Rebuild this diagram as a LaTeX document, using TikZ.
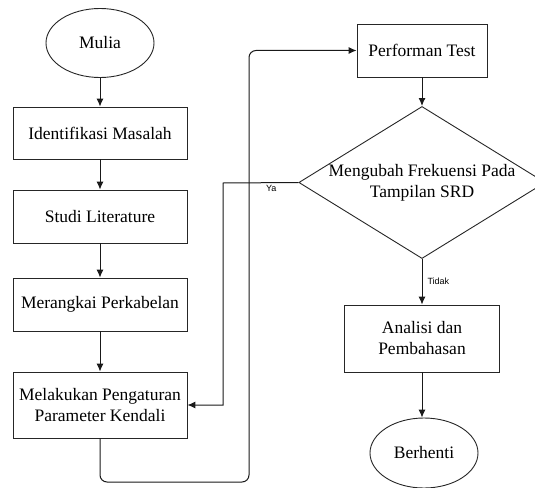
\documentclass[tikz,border=0pt]{standalone}
\usepackage{fontspec}
\setmainfont{Liberation Serif}
\newfontfamily\lblfont{Liberation Sans}
\usetikzlibrary{shapes.geometric,arrows.meta}

\tikzset{
 proses/.style={draw=black!85, line width=0.9pt, rectangle, align=center,
   font=\fontsize{17.5}{21}\selectfont},
 terminal/.style={draw=black!85, line width=0.9pt, ellipse, inner sep=0pt,
   minimum width=108pt, minimum height=69pt, font=\fontsize{17.5}{21}\selectfont},
 keputusan/.style={draw=black!85, line width=0.9pt, diamond, inner sep=0pt,
   shape aspect=1.62, minimum width=244pt, minimum height=151pt, align=center,
   font=\fontsize{17.5}{21}\selectfont},
 alur/.style={draw=black!90, line width=1pt, -{Latex[length=8pt,width=7pt]}},
 ket/.style={font=\lblfont\fontsize{9}{10}\selectfont, inner sep=2pt}
}

\begin{document}
\begin{tikzpicture}[x=1pt,y=-1pt]
\clip (0,0) rectangle (535,487);

\def\lx {100} \def\rx {422}
\def\bw {174}

% kolom kiri
\node[terminal] (mulia) at (\lx,43) {Mulia};
\node[proses, minimum width=\bw pt, minimum height=52pt] (ident) at (\lx,133) {Identifikasi Masalah};
\node[proses, minimum width=\bw pt, minimum height=53pt] (studi) at (\lx,216.5) {Studi Literature};
\node[proses, minimum width=\bw pt, minimum height=53pt] (rangkai) at (\lx,304.5) {Merangkai Perkabelan};
\node[proses, minimum width=\bw pt, minimum height=66pt] (atur) at (\lx,405) {Melakukan Pengaturan\\Parameter Kendali};

% kolom kanan
\node[proses, minimum width=130pt, minimum height=53pt] (perform) at (\rx,50.5) {Performan Test};
\node[keputusan] (ubah) at (\rx,182.5) {Mengubah Frekuensi Pada\\Tampilan SRD};
\node[proses, minimum width=155pt, minimum height=67pt] (analisi) at (\rx,338.5) {Analisi dan\\Pembahasan};
\node[terminal, minimum height=70pt] (berhenti) at (\rx+2,453) {Berhenti};

\coordinate (putar) at (249,482);
\coordinate (ya) at (223,183);

\draw[alur] (mulia) -- (ident);
\draw[alur] (ident) -- (studi);
\draw[alur] (studi) -- (rangkai);
\draw[alur] (rangkai) -- (atur);
\draw[alur, rounded corners=7pt] (atur.south) |- (putar) |- (perform.west);
\draw[alur] (perform) -- (ubah);
\draw[alur] (ubah.west) -- node[ket, pos=0.36, below]{Ya} (ya) |- (atur.east);
\draw[alur] (ubah.south) -- node[ket, midway, right, xshift=3pt]{Tidak} (analisi.north);
\draw[alur] (analisi.south) -- (analisi.south |- berhenti.north);
\end{tikzpicture}
\end{document}
